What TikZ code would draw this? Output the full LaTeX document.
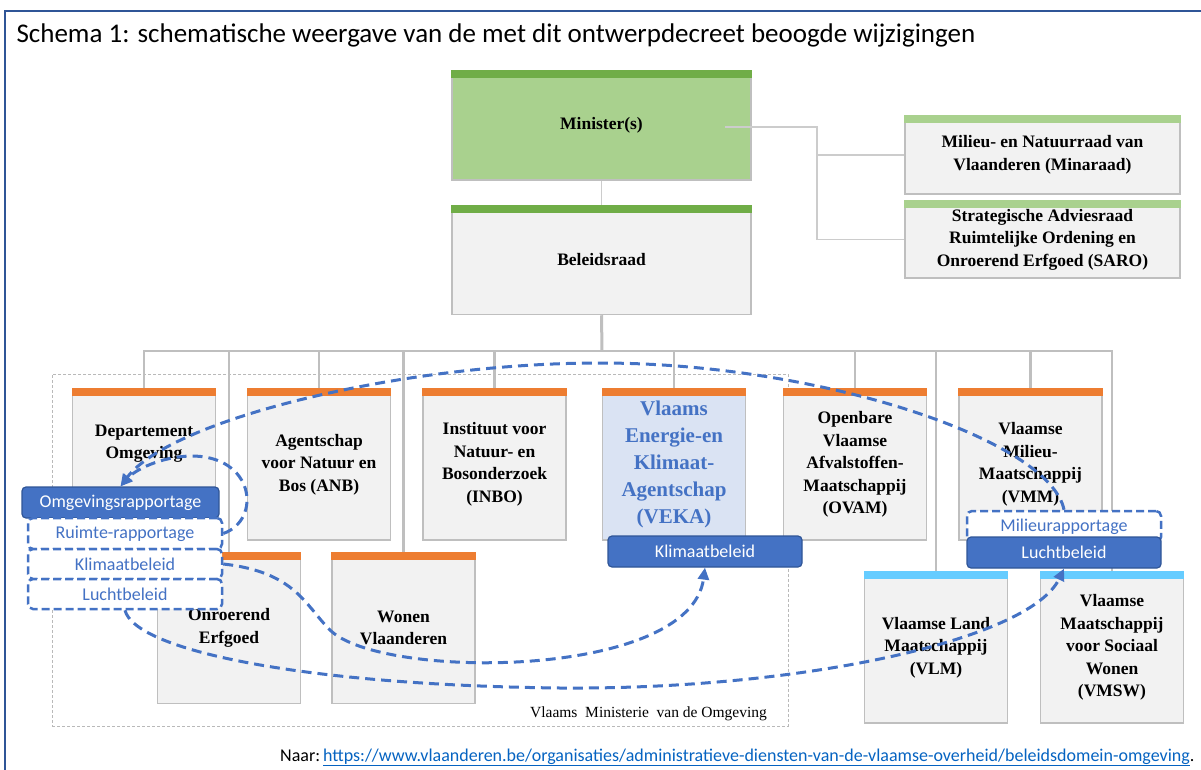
\documentclass[tikz,border=0pt]{standalone}
\usepackage{fontspec}
\setmainfont{Liberation Serif}
\newfontfamily\calibri{Carlito}
\usetikzlibrary{arrows.meta}
\definecolor{mingreen}{HTML}{70AD47}
\definecolor{advgreen}{HTML}{A9D18E}
\definecolor{orgorange}{HTML}{ED7D31}
\definecolor{orgcyan}{HTML}{66CCFF}
\definecolor{boxfill}{HTML}{F2F2F2}
\definecolor{boxline}{HTML}{BFBFBF}
\definecolor{vekafill}{HTML}{DAE3F3}
\definecolor{accblue}{HTML}{4472C4}
\definecolor{darkblue}{HTML}{2F5597}
\definecolor{linkblue}{HTML}{0563C1}
\tikzset{
  orgbox/.style={draw=boxline, line width=1.5pt, fill=boxfill, minimum width=143pt, minimum height=151pt, inner sep=1pt, align=center, font=\fontsize{17.5}{22.5}\selectfont\bfseries},
  topbox/.style={orgbox, minimum width=299pt, minimum height=109pt},
  advbox/.style={orgbox, minimum width=275pt, minimum height=78pt},
  groupbox/.style={draw=gray!55, line width=0.8pt, dash pattern=on 3pt off 2pt, inner sep=0pt},
  filledbtn/.style={draw=darkblue, line width=1.2pt, fill=accblue, rounded corners=4pt, minimum width=197pt, minimum height=31pt, inner sep=0pt, text=white, font=\calibri\fontsize{18}{20}\selectfont},
  dashbtn/.style={draw=accblue, line width=2.5pt, dash pattern=on 8pt off 4pt, fill=white, rounded corners=5pt, minimum width=194pt, minimum height=30pt, inner sep=0pt, text=accblue, font=\calibri\fontsize{18}{20}\selectfont},
  conn/.style={draw=boxline, line width=2.5pt},
  advconn/.style={draw=boxline!80, line width=1.2pt},
  flow/.style={draw=accblue, line width=3pt, dash pattern=on 10pt off 6pt, -{Triangle[length=12pt,width=11pt]}}
}
\begin{document}
\begin{tikzpicture}[x=1pt,y=-1pt]
      \useasboundingbox (0,0) rectangle (1201,770);
      \draw[darkblue, line width=2pt] (1201,11) -- (5,11) -- (5,770);
      \node[anchor=base west, font=\calibri\fontsize{27}{32}\selectfont] (title) at (13,43) {Schema 1: schematische weergave van de met dit ontwerpdecreet beoogde wijzigingen};
      \node[groupbox, minimum width=736pt, minimum height=352pt] (vmo) at (420,550) {};
      \node[anchor=base east, font=\fontsize{15.5}{18}\selectfont] (vmolabel) at ([xshift=-18pt,yshift=9pt]vmo.south east) {Vlaams\ \ Ministerie\ \ van de Omgeving};
      \node[topbox, fill=advgreen] (minis) at (601.5,125.5) {Minister(s)};
      \node[topbox] (belr) at (601.5,260) {Beleidsraad};
      \node[advbox] (mina) at (1042.5,155) {Milieu- en Natuurraad van\\Vlaanderen (Minaraad)};
      \node[advbox, minimum height=77pt] (saro) at (1042.5,239.5) {Strategische Adviesraad\\Ruimtelijke Ordening en\\Onroerend Erfgoed (SARO)};
      \node[orgbox] (dep) at (144,464.5) {Departement\\Omgeving\\~\\~};
      \node[orgbox] (anb) at (319,464.5) {Agentschap\\voor Natuur en\\Bos (ANB)};
      \node[orgbox] (inbo) at (494.5,464.5) {Instituut voor\\Natuur- en\\Bosonderzoek\\(INBO)};
      \node[orgbox, fill=vekafill, text=accblue, font=\fontsize{21}{27}\selectfont\bfseries] (veka) at (674,464.5) {Vlaams\\Energie-en\\Klimaat-\\Agentschap\\(VEKA)};
      \node[orgbox] (ovam) at (855,464.5) {Openbare\\Vlaamse\\Afvalstoffen-\\Maatschappij\\(OVAM)};
      \node[orgbox] (vmm) at (1030.5,464.5) {Vlaamse\\Milieu-\\Maatschappij\\(VMM)};
      \node[orgbox] (onr) at (229,628) {Onroerend\\Erfgoed};
      \node[orgbox] (won) at (403.5,628) {Wonen\\Vlaanderen};
      \node[orgbox] (vlm) at (936,647.5) {Vlaamse Land\\Maatschappij\\(VLM)};
      \node[orgbox] (vmsw) at (1112,647.5) {Vlaamse\\Maatschappij\\voor Sociaal\\Wonen\\(VMSW)};
      \foreach \n/\c in {minis/mingreen, belr/mingreen, mina/advgreen, saro/advgreen, dep/orgorange, anb/orgorange, inbo/orgorange, veka/orgorange, ovam/orgorange, vmm/orgorange, onr/orgorange, won/orgorange, vlm/orgcyan, vmsw/orgcyan}
        \fill[\c] (\n.north west) rectangle ([yshift=-8pt]\n.north east);
      \coordinate (minout) at (725,127);
      \coordinate (advhub) at (817,127);
      \coordinate (hub) at (602,351);
      \draw[advconn] (minis.south) -- (belr.north);
      \draw[advconn] (minout) -- (advhub) |- (mina.west);
      \draw[advconn] (advhub) |- (saro.west);
      \draw[conn, line width=3pt] (belr.south) -- (hub);
      \foreach \n in {dep,onr,anb,won,inbo,veka,ovam,vlm,vmm,vmsw}
        \draw[conn] (hub) -| (\n.north);
      \node[filledbtn] (omg) at (120.5,502.5) {Omgevingsrapportage};
      \node[dashbtn, minimum height=31pt] (ruim) at (125,533.5) {Ruimte-rapportage};
      \node[dashbtn] (klimL) at (125,564) {Klimaatbeleid};
      \node[dashbtn] (luchtL) at (125,594) {Luchtbeleid};
      \node[filledbtn, minimum width=194pt] (klimR) at (705,551.5) {Klimaatbeleid};
      \node[dashbtn, minimum height=31pt] (milieu) at (1064,526.5) {Milieurapportage};
      \node[filledbtn, minimum width=194pt] (luchtR) at (1064,552.5) {Luchtbeleid};
      \draw[flow] (milieu.north) .. controls (1050,440) and (820,363) .. (600,363) .. controls (400,363) and (170,420) .. (omg.north);
      \draw[flow] (ruim.east) .. controls (262,520) and (255,455) .. (190,456) .. controls (160,457) and (135,470) .. (omg.north);
      \draw[flow] (klimL.east) .. controls (295,572) and (305,605) .. (330,630) .. controls (380,680) and (690,680) .. (klimR.south);
      \draw[flow] (luchtL.south) .. controls (135,650) and (300,685) .. (560,688) .. controls (800,690) and (1030,640) .. (luchtR.south);
      \node[anchor=base east, font=\calibri\fontsize{18}{21}\selectfont] (source) at (1198,761) {Naar:\,\textcolor{linkblue}{\underline{https://www.vlaanderen.be/organisaties/administratieve-diensten-van-de-vlaamse-overheid/beleidsdomein-omgeving}}.};
\end{tikzpicture}
\end{document}
